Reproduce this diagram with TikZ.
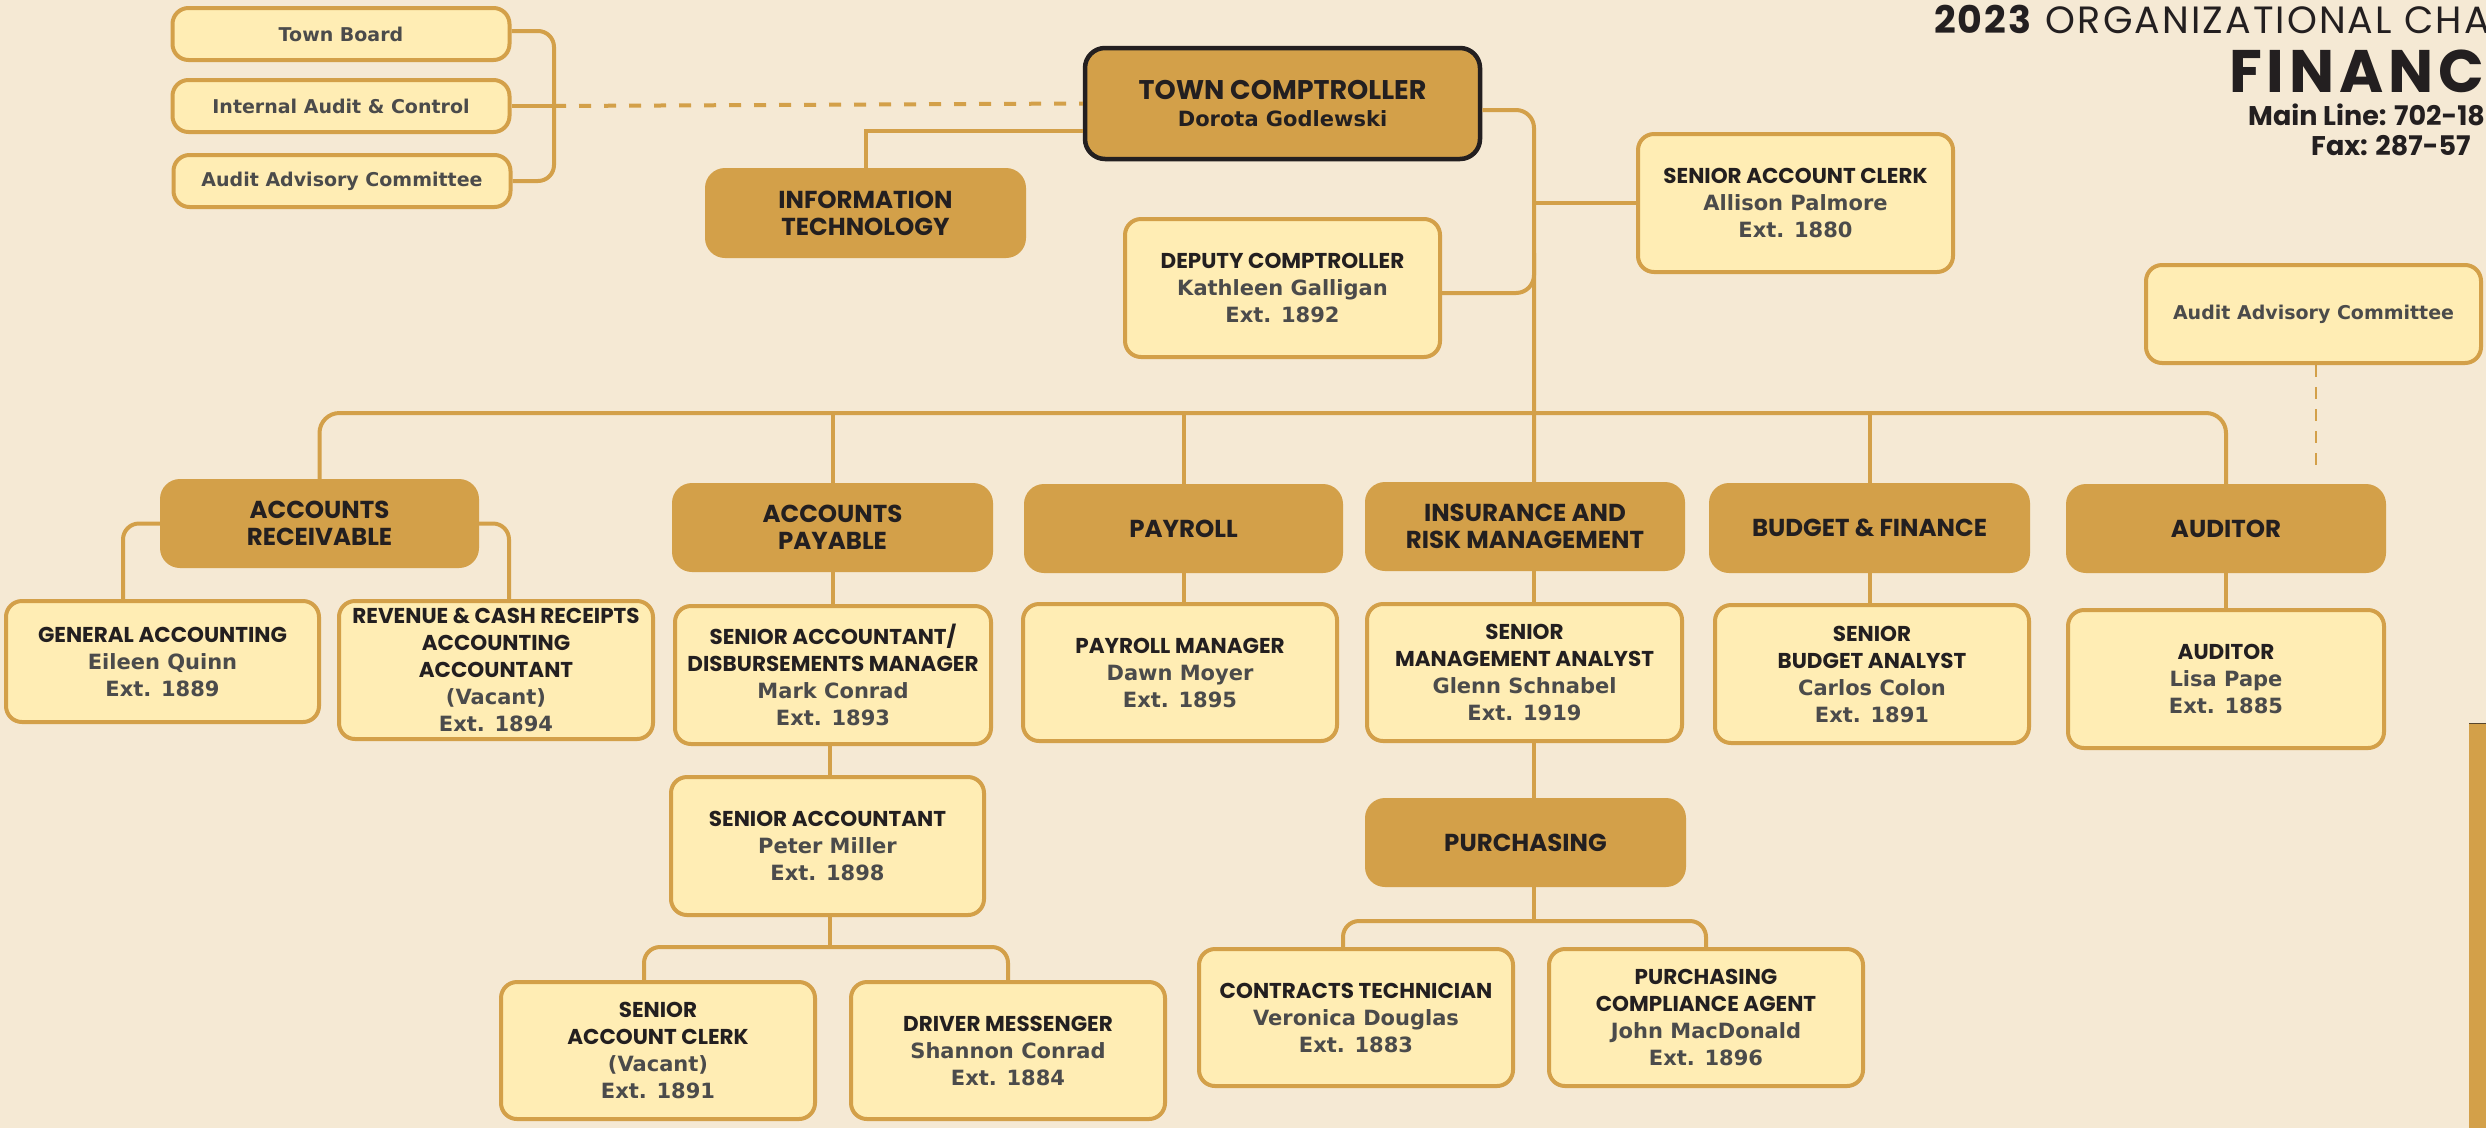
\documentclass[tikz,border=0pt]{standalone}
\usepackage{fontspec}
\setmainfont{DejaVu Sans}
\newfontfamily\hd{Poppins}
\newfontfamily\dv{DejaVu Sans}
\usetikzlibrary{calc}
\definecolor{bg}{HTML}{F5E9D4}
\definecolor{pale}{HTML}{FFEDB4}
\definecolor{gold}{HTML}{D3A049}
\definecolor{ink}{HTML}{231F20}
\definecolor{grey}{HTML}{4B4B4B}
\newcommand\hdt[1]{{\hd\bfseries\fontsize{21.5}{27}\selectfont\color{ink}#1}}
\newcommand\nmt[1]{{\dv\bfseries\fontsize{21}{27}\selectfont\color{grey}#1}}
\newcommand\dkt[1]{{\hd\bfseries\fontsize{24.5}{27}\selectfont\color{ink}#1}}
\newcommand\lbt[1]{{\dv\bfseries\fontsize{19}{22}\selectfont\color{grey}#1}}
\begin{document}
\begin{tikzpicture}[x=1pt,y=-1pt,
  sz/.style 2 args={minimum width=#1pt,minimum height=#2pt},
  lbox/.style={draw=gold,line width=4pt,fill=pale,rounded corners=16pt,inner sep=0pt,align=center,font=\fontsize{19}{27}\selectfont},
  dbox/.style={fill=gold,rounded corners=20pt,inner sep=0pt,align=center,font=\fontsize{24.5}{27}\selectfont},
  cbox/.style={draw=ink,line width=4.5pt,fill=gold,rounded corners=20pt,inner sep=0pt,align=center,font=\fontsize{24.5}{27}\selectfont},
  conn/.style={draw=gold,line width=4pt},
]
\useasboundingbox (0,0) rectangle (2486,1128);
\clip (0,0) rectangle (2486,1128);
\fill[bg] (0,0) rectangle (2486,1128);

% title
\node[anchor=base west,inner sep=0pt,text=ink] (t1) at (1934,33) {\hd\fontsize{38}{42}\selectfont\addfontfeature{LetterSpace=5.5}\textbf{2023} ORGANIZATIONAL CHAR};
\node[anchor=base west,inner sep=0pt,text=ink] (t2) at (2229,92) {\hd\bfseries\fontsize{60}{64}\selectfont\addfontfeature{LetterSpace=8}FINANC};
\node[anchor=base west,inner sep=0pt,text=ink] (t3) at (2248,125) {\hd\bfseries\fontsize{27}{30}\selectfont Main Line: 702-18};
\node[anchor=base west,inner sep=0pt,text=ink] (t4) at (2311,155) {\hd\bfseries\fontsize{27}{30}\selectfont Fax: 287-57};

% right bar
\fill[gold] (2469,723) rectangle (2486,1128);
\draw[ink!70!gold,line width=1pt] (2469,723.5) -- (2486,723.5);

% top-left boxes
\node[lbox,sz={337}{52}] (tb) at (341,34) {\lbt{Town Board}};
\node[lbox,sz={337}{52}] (iac) at (341,106) {\lbt{Internal Audit \& Control}};
\node[lbox,sz={337}{52}] (aa1) at (342,181) {\lbt{Audit Advisory Committee}};

% comptroller and staff
\node[cbox,sz={395}{111}] (comp) at (1282.5,103.5) {{\hd\bfseries\fontsize{27}{27}\selectfont\color{ink}TOWN COMPTROLLER}\\{\dv\bfseries\fontsize{21}{27}\selectfont\color{ink}Dorota Godlewski}};
\node[dbox,sz={321}{90}] (it) at (865.5,213) {\dkt{INFORMATION}\\\dkt{TECHNOLOGY}};
\node[lbox,sz={315}{138}] (dep) at (1282.5,288) {\hdt{DEPUTY COMPTROLLER}\\\nmt{Kathleen Galligan}\\\nmt{Ext. 1892}};
\node[lbox,sz={315}{138}] (sac) at (1795.5,203) {\hdt{SENIOR ACCOUNT CLERK}\\\nmt{Allison Palmore}\\\nmt{Ext. 1880}};
\node[lbox,sz={335}{98}] (aa2) at (2313.5,314) {\lbt{Audit Advisory Committee}};

% departments
\node[dbox,sz={319}{89}] (ar) at (319.5,523.5) {\dkt{ACCOUNTS}\\\dkt{RECEIVABLE}};
\node[dbox,sz={321}{89}] (ap) at (832.5,527.5) {\dkt{ACCOUNTS}\\\dkt{PAYABLE}};
\node[dbox,sz={319}{89}] (pay) at (1183.5,528.5) {\dkt{PAYROLL}};
\node[dbox,sz={320}{89}] (ins) at (1525,526.5) {\dkt{INSURANCE AND}\\\dkt{RISK MANAGEMENT}};
\node[dbox,sz={321}{90}] (bud) at (1869.5,528) {\dkt{BUDGET \& FINANCE}};
\node[dbox,sz={320}{89}] (aud) at (2226,528.5) {\dkt{AUDITOR}};

% staff boxes
\node[lbox,sz={313}{121}] (ga) at (162.5,661.5) {\hdt{GENERAL ACCOUNTING}\\\nmt{Eileen Quinn}\\\nmt{Ext. 1889}};
\node[lbox,sz={314}{138}] (rev) at (496,670) {\hdt{REVENUE \& CASH RECEIPTS}\\\hdt{ACCOUNTING}\\\hdt{ACCOUNTANT}\\\nmt{(Vacant)}\\\nmt{Ext. 1894}};
\node[lbox,sz={316}{138}] (sadm) at (833,675) {\hdt{SENIOR ACCOUNTANT/}\\\hdt{DISBURSEMENTS MANAGER}\\\nmt{Mark Conrad}\\\nmt{Ext. 1893}};
\node[lbox,sz={314}{137}] (pm) at (1180,672.5) {\hdt{PAYROLL MANAGER}\\\nmt{Dawn Moyer}\\\nmt{Ext. 1895}};
\node[lbox,sz={315}{137}] (sma) at (1524.5,672.5) {\hdt{SENIOR}\\\hdt{MANAGEMENT ANALYST}\\\nmt{Glenn Schnabel}\\\nmt{Ext. 1919}};
\node[lbox,sz={314}{138}] (sba) at (1872,674) {\hdt{SENIOR}\\\hdt{BUDGET ANALYST}\\\nmt{Carlos Colon}\\\nmt{Ext. 1891}};
\node[lbox,sz={316}{138}] (aud2) at (2226,679) {\hdt{AUDITOR}\\\nmt{Lisa Pape}\\\nmt{Ext. 1885}};
\node[lbox,sz={313}{138}] (sa) at (827.5,846) {\hdt{SENIOR ACCOUNTANT}\\\nmt{Peter Miller}\\\nmt{Ext. 1898}};
\node[dbox,sz={321}{89}] (pur) at (1525.5,842.5) {\dkt{PURCHASING}};
\node[lbox,sz={314}{137}] (sacv) at (658,1050.5) {\hdt{SENIOR}\\\hdt{ACCOUNT CLERK}\\\nmt{(Vacant)}\\\nmt{Ext. 1891}};
\node[lbox,sz={314}{137}] (dm) at (1008,1050.5) {\hdt{DRIVER MESSENGER}\\\nmt{Shannon Conrad}\\\nmt{Ext. 1884}};
\node[lbox,sz={314}{137}] (ct) at (1356,1017.5) {\hdt{CONTRACTS TECHNICIAN}\\\nmt{Veronica Douglas}\\\nmt{Ext. 1883}};
\node[lbox,sz={314}{137}] (pca) at (1706,1017.5) {\hdt{PURCHASING}\\\hdt{COMPLIANCE AGENT}\\\nmt{John MacDonald}\\\nmt{Ext. 1896}};

% helper coordinates
\coordinate (bx) at (554,0);
\coordinate (tx) at (1534,0);
\coordinate (busy) at (0,413);
\coordinate (sx) at (830,0);
\coordinate (sf) at (0,947);
\coordinate (pf) at (0,921);
\coordinate (tb1) at ($(tb.east)+(0,-3)$);
\coordinate (it1) at ($(comp.south west)+(0,-30)$);
\coordinate (c1) at ($(comp.east)+(0,6.5)$);
\coordinate (d1) at ($(dep.east)+(0,5)$);
\coordinate (gat) at ($(ga.north)+(-39.5,0)$);
\coordinate (rvt) at ($(rev.north)+(13,0)$);
\coordinate (sct) at ($(sacv.north)+(-14,0)$);
\coordinate (ctt) at ($(ct.north)+(-13,0)$);
\coordinate (dend) at (2316,471);

% connectors
\draw[conn,rounded corners=16pt] (tb1) -- (tb1 -| bx) -- (aa1.east -| bx) -- (aa1.east);
\draw[conn] (iac.east) -- (iac.east -| bx);
\draw[conn,dash pattern=on 12pt off 13pt] (iac.east -| bx) -- (comp.west);
\draw[conn] (it1) -- (it1 -| it.north) -- (it.north);
\draw[conn,rounded corners=18pt] (c1) -- (c1 -| tx) -- (ins.north -| tx);
\draw[conn,rounded corners=18pt] (d1) -- (d1 -| tx) -- ($(d1 -| tx)+(0,-40)$);
\draw[conn] (sac.west -| tx) -- (sac.west);
\draw[conn,rounded corners=20pt] (ar.north) -- (ar.north |- busy) -- (aud.north |- busy) -- (aud.north);
\draw[conn] (ap.north) -- (ap.north |- busy);
\draw[conn] (pay.north) -- (pay.north |- busy);
\draw[conn] (bud.north) -- (bud.north |- busy);
\draw[conn,rounded corners=16pt] (ar.west) -- (ar.west -| gat) -- (gat);
\draw[conn,rounded corners=16pt] (ar.east) -- (ar.east -| rvt) -- (rvt);
\draw[conn] (ap.south) -- (ap.south |- sadm.north);
\draw[conn] (sadm.south -| sx) -- (sa.north -| sx);
\draw[conn] (sa.south -| sx) -- (sf -| sx);
\draw[conn,rounded corners=16pt] (sct) -- (sct |- sf) -- (dm.north |- sf) -- (dm.north);
\draw[conn] (pay.south) -- (pay.south |- pm.north);
\draw[conn] (bud.south) -- (bud.south |- sba.north);
\draw[conn] (aud.south) -- (aud.south |- aud2.north);
\draw[conn] (ins.south -| tx) -- (sma.north -| tx);
\draw[conn] (sma.south -| tx) -- (pur.north -| tx);
\draw[conn] (pur.south -| tx) -- (pf -| tx);
\draw[conn,rounded corners=16pt] (ctt) -- (ctt |- pf) -- (pca.north |- pf) -- (pca.north);
\draw[draw=gold,line width=2.5pt,dash pattern=on 12pt off 10pt] (aa2.south -| dend) -- (dend);
\end{tikzpicture}
\end{document}
